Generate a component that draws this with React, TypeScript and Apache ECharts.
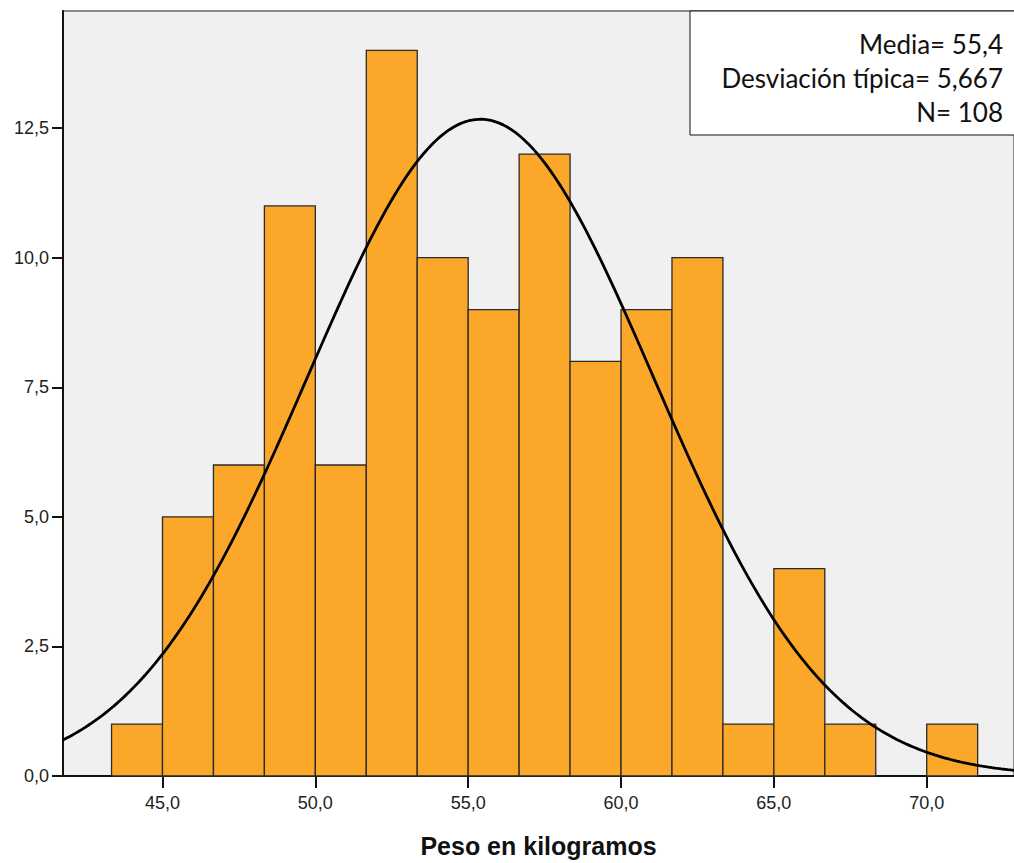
import React, { useEffect, useRef } from "react";
import * as echarts from "echarts";

const binStarts = [43.333, 45.0, 46.667, 48.333, 50.0, 51.667, 53.333, 55.0, 56.667, 58.333, 60.0, 61.667, 63.333, 65.0, 66.667, 68.333, 70.0];
const binWidth = 5 / 3;
const counts = [1, 5, 6, 11, 6, 14, 10, 9, 12, 8, 9, 10, 1, 4, 1, 0, 1];
const xTicks = [45, 50, 55, 60, 65, 70];
const yTicks = [0, 2.5, 5, 7.5, 10, 12.5];
const mean = 55.4;
const sd = 5.667;
const n = 108;
const xMin = 41.745;
const xMax = 72.856;
const yMax = 14.76;
const statsLines = ["Media= 55,4", "Desviación típica= 5,667", "N= 108"];
const axisTitle = "Peso en kilogramos";

export default function App() {
  const ref = useRef<HTMLDivElement>(null);
  useEffect(() => {
    if (!ref.current) return;
    const chart = echarts.init(ref.current, undefined, { renderer: "svg" });
    const barData = binStarts.map((s, i) => [s, s + binWidth, counts[i]]);
    const curve: number[][] = [];
    const steps = 300;
    for (let i = 0; i <= steps; i++) {
      const x = xMin + ((xMax - xMin) * i) / steps;
      const z = (x - mean) / sd;
      const y = (n * binWidth * Math.exp(-0.5 * z * z)) / (sd * Math.sqrt(2 * Math.PI));
      curve.push([x, y]);
    }
    const fmt = (v: number) => v.toFixed(1).replace(".", ",");
    chart.setOption({
      animation: false,
      grid: {
        left: 63,
        right: 0,
        top: 11,
        bottom: 86,
        show: true,
        backgroundColor: "#F0F0F0",
        borderColor: "#8a8a8a",
        borderWidth: 2,
      },
      xAxis: {
        type: "value",
        min: xMin,
        max: xMax,
        name: axisTitle,
        nameLocation: "middle",
        nameGap: 57,
        nameTextStyle: { fontFamily: "Liberation Sans", fontWeight: "bold", fontSize: 25, color: "#111" },
        splitLine: { show: false },
        axisLine: { show: true, lineStyle: { color: "#111", width: 2 } },
        axisTick: { show: true, length: 12, customValues: xTicks, lineStyle: { color: "#111", width: 2 } },
        axisLabel: {
          customValues: xTicks,
          formatter: (v: number) => fmt(v),
          margin: 18,
          fontFamily: "Liberation Sans",
          fontSize: 18,
          color: "#222",
        },
      },
      yAxis: {
        type: "value",
        min: 0,
        max: yMax,
        splitLine: { show: false },
        axisLine: { show: true, lineStyle: { color: "#111", width: 2 } },
        axisTick: { show: true, length: 11, customValues: yTicks, lineStyle: { color: "#111", width: 2 } },
        axisLabel: {
          customValues: yTicks,
          formatter: (v: number) => fmt(v),
          margin: 14,
          fontFamily: "Liberation Sans",
          fontSize: 18,
          color: "#222",
        },
      },
      series: [
        {
          type: "custom",
          data: barData,
          encode: { x: [0, 1], y: 2 },
          renderItem: (params: any, api: any) => {
            const v = api.value(2);
            if (!v) return null;
            const p0 = api.coord([api.value(0), v]);
            const p1 = api.coord([api.value(1), 0]);
            return {
              type: "rect",
              shape: { x: p0[0], y: p0[1], width: p1[0] - p0[0], height: p1[1] - p0[1] },
              style: { fill: "#FBA82A", stroke: "#2a2a2a", lineWidth: 1.3 },
            };
          },
          z: 2,
        },
        {
          type: "line",
          data: curve,
          showSymbol: false,
          symbol: "none",
          smooth: false,
          lineStyle: { color: "#000", width: 2.8 },
          z: 3,
        },
      ],
      graphic: [
        {
          type: "rect",
          shape: { x: 690, y: 11, width: 340, height: 124 },
          style: { fill: "#fff", stroke: "#111", lineWidth: 1 },
          z: 10,
        },
        ...statsLines.map((t, i) => ({
          type: "text",
          x: 1003,
          y: 44 + i * 34,
          style: {
            text: t,
            align: "right",
            verticalAlign: "middle",
            fontFamily: "Lato",
            fontSize: 26,
            fill: "#111",
          },
          z: 11,
        })),
      ],
    });
    return () => chart.dispose();
  }, []);
  return <div ref={ref} style={{ position: "fixed", left: 0, top: 0, width: 1014, height: 863, background: "#fff" }} />;
}
